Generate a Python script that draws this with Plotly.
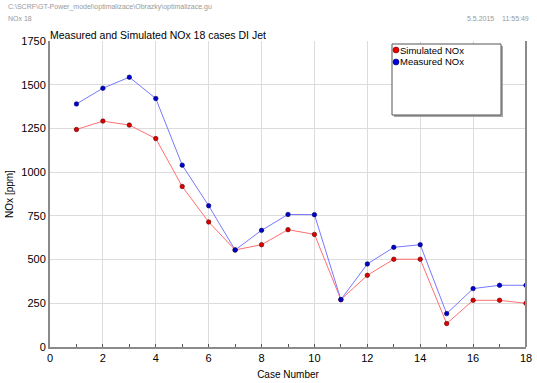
import plotly.graph_objects as go

case = list(range(1, 19))
simulated = [1244, 1292, 1269, 1192, 918, 715, 555, 585, 671, 644, 271, 410, 502, 502, 134, 267, 267, 250]
measured = [1390, 1480, 1543, 1421, 1040, 808, 555, 667, 758, 757, 271, 475, 570, 585, 191, 334, 353, 353]
series_names = ["Simulated NOx", "Measured NOx"]
x_ticks = list(range(0, 19, 2))
y_ticks = list(range(0, 1751, 250))

FONT = "Liberation Sans, Arial, sans-serif"
W, H = 537, 383
ML, MR, MT, MB = 50, 11, 41, 36
PW, PH = W - ML - MR, H - MT - MB


def px(x):
    return (x - ML) / PW


def py(y):
    return (H - MB - y) / PH


fig = go.Figure()
fig.add_trace(go.Scatter(x=case, y=simulated, mode="lines+markers", name=series_names[0], showlegend=False,
                         line=dict(color="#ff7070", width=1),
                         marker=dict(color="#dd0000", size=4.5, line=dict(color="#600000", width=0.6))))
fig.add_trace(go.Scatter(x=case, y=measured, mode="lines+markers", name=series_names[1], showlegend=False,
                         line=dict(color="#7878ff", width=1),
                         marker=dict(color="#0000cc", size=4.5, line=dict(color="#000060", width=0.6))))

fig.update_layout(
    width=W, height=H,
    margin=dict(l=ML, r=MR, t=MT, b=MB),
    paper_bgcolor="white", plot_bgcolor="white",
    font=dict(family=FONT, size=11, color="black"),
    showlegend=False,
    xaxis=dict(range=[0, 18], tickmode="array", tickvals=x_ticks, automargin=False,
               showgrid=True, gridcolor="#dcdcdc", gridwidth=1,
               showline=True, linecolor="#8a8a8a", linewidth=2,
               ticks="inside", ticklen=3, tickcolor="#555",
               minor=dict(dtick=1, ticks="inside", ticklen=3, tickcolor="#555", showgrid=False),
               zeroline=False,
               title=dict(text="Case Number", font=dict(size=10, family=FONT), standoff=8),
               tickfont=dict(size=11)),
    yaxis=dict(range=[0, 1750], tickmode="array", tickvals=y_ticks, automargin=False,
               showgrid=True, gridcolor="#dcdcdc", gridwidth=1,
               showline=True, linecolor="#8a8a8a", linewidth=2,
               ticks="", zeroline=False,
               title=dict(text="NOx [ppm]", font=dict(size=10, family=FONT), standoff=6),
               tickfont=dict(size=11)),
)

# right frame line
fig.add_shape(type="line", xref="paper", yref="paper", x0=1, x1=1, y0=0, y1=1,
              line=dict(color="#8a8a8a", width=2), layer="above")
# legend box with shadow
fig.add_shape(type="rect", xref="paper", yref="paper", x0=px(394), x1=px(503), y0=py(117), y1=py(46),
              line=dict(width=0), fillcolor="#a8a8a8", layer="above")
fig.add_shape(type="rect", xref="paper", yref="paper", x0=px(392), x1=px(501), y0=py(115), y1=py(44),
              line=dict(color="#555555", width=1), fillcolor="white", layer="above")
# legend entries
leg_colors = [("#ee0000", "#700000"), ("#0000dd", "#000070")]
for i, (name, (fc, lc)) in enumerate(zip(series_names, leg_colors)):
    cy = 50 + 12 * i
    r = 3
    fig.add_shape(type="circle", xref="paper", yref="paper",
                  x0=px(396 - r), x1=px(396 + r), y0=py(cy + r), y1=py(cy - r),
                  fillcolor=fc, line=dict(color=lc, width=0.6), layer="above")
    fig.add_annotation(text=name, xref="paper", yref="paper", x=px(398), y=py(cy),
                       xanchor="left", yanchor="middle", showarrow=False,
                       font=dict(family=FONT, size=9.5, color="black"))

# title and header texts
fig.add_annotation(text="Measured and Simulated NOx 18 cases DI Jet", xref="paper", yref="paper",
                   x=0.0, y=1.0, xanchor="left", yanchor="bottom", showarrow=False, xshift=-2, yshift=-2,
                   font=dict(family=FONT, size=10.5, color="black"))
fig.add_annotation(text="C:\\SCRF\\GT-Power_model\\optimalizace\\Obrazky\\optimalizace.gu",
                   xref="paper", yref="paper", x=px(6), y=py(7),
                   xanchor="left", yanchor="middle", showarrow=False,
                   font=dict(family=FONT, size=7, color="#999999"))
fig.add_annotation(text="NOx 18", xref="paper", yref="paper", x=px(6), y=py(18),
                   xanchor="left", yanchor="middle", showarrow=False,
                   font=dict(family=FONT, size=7, color="#999999"))
fig.add_annotation(text="5.5.2015&nbsp;&nbsp;&nbsp;&nbsp;11:55:49", xref="paper", yref="paper", x=px(531), y=py(18),
                   xanchor="right", yanchor="middle", showarrow=False,
                   font=dict(family=FONT, size=7, color="#999999"))

fig.write_html("out.html", config={"displayModeBar": False},
               post_script="document.body.style.margin='0';document.body.style.overflow='hidden';")
